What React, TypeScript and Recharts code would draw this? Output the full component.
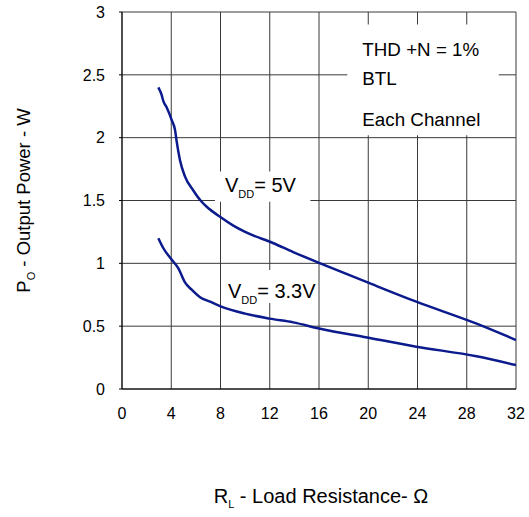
import {
  LineChart,
  Line,
  XAxis,
  YAxis,
  CartesianGrid,
  ReferenceArea,
} from "recharts";

const FONT = "'Liberation Sans', Arial, Helvetica, sans-serif";

const xTicks = [0, 4, 8, 12, 16, 20, 24, 28, 32];
const yTicks = [0, 0.5, 1, 1.5, 2, 2.5, 3];

// VDD = 5 V
const load5V = [2.95, 3.22, 3.36, 3.63, 4.04, 4.31, 4.44, 4.71, 5.12, 5.79, 6.47, 6.88, 7.96, 9.04, 10, 12.3, 13.9, 16.1, 19.9, 23.9, 28.8, 32];
const power5V = [2.4, 2.34, 2.29, 2.24, 2.14, 2.06, 1.97, 1.82, 1.69, 1.58, 1.49, 1.45, 1.37, 1.3, 1.25, 1.16, 1.09, 1.0, 0.85, 0.695, 0.52, 0.39];

// VDD = 3.3 V
const load33V = [2.95, 3.36, 4.03, 4.58, 5.1, 5.66, 6.34, 7.15, 7.96, 10, 12, 13.9, 16.1, 19.9, 23.9, 28.8, 32];
const power33V = [1.2, 1.12, 1.03, 0.96, 0.85, 0.79, 0.73, 0.695, 0.66, 0.6, 0.56, 0.53, 0.48, 0.41, 0.337, 0.26, 0.19];

const data5V = load5V.map((r, i) => ({ r, p: power5V[i] }));
const data33V = load33V.map((r, i) => ({ r, p: power33V[i] }));

const LINE_COLOR = "#0b1a8c";

function conditionsLabel(props: any) {
  const { x, y } = props.viewBox;
  return (
    <g fontFamily={FONT} fontSize={18.8} fill="#000">
      <text x={x + 15} y={y + 31}>THD +N = 1%</text>
      <text x={x + 15} y={y + 60}>BTL</text>
      <text x={x + 15} y={y + 101}>Each Channel</text>
    </g>
  );
}

function vddLabel(value: string, dx: number, dy: number) {
  return (props: any) => {
    const { x, y } = props.viewBox;
    return (
      <text x={x + dx} y={y + dy} fontFamily={FONT} fontSize={20} fill="#000">
        <tspan>V</tspan>
        <tspan fontSize={11} dy={6}>DD</tspan>
        <tspan dy={-6}>{"= " + value}</tspan>
      </text>
    );
  };
}

function yTitle(props: any) {
  const { x, y, height } = props.viewBox;
  const cx = x + 30;
  const cy = y + height / 2;
  return (
    <text
      x={cx}
      y={cy}
      transform={`rotate(-90, ${cx}, ${cy})`}
      textAnchor="middle"
      fontFamily={FONT}
      fontSize={18.5}
      fill="#000"
    >
      <tspan>P</tspan>
      <tspan fontSize={11} dy={5}>O</tspan>
      <tspan dy={-5}> - Output Power - W</tspan>
    </text>
  );
}

function xTitle(props: any) {
  const { x, y, width } = props.viewBox;
  const cx = x + width / 2 + 2;
  return (
    <text x={cx} y={y + 114} textAnchor="middle" fontFamily={FONT} fontSize={20} fill="#000">
      <tspan>R</tspan>
      <tspan fontSize={11} dy={5}>L</tspan>
      <tspan dy={-5}> - Load Resistance- Ω</tspan>
    </text>
  );
}

export default function App() {
  return (
    <div style={{ position: "absolute", left: 0, top: 0, width: 529, height: 517, background: "#fff" }}>
      <LineChart
        width={529}
        height={517}
        margin={{ top: 12, right: 13, bottom: 0, left: 0 }}
      >
        <CartesianGrid stroke="#3a3a3a" strokeWidth={1} horizontalValues={yTicks} verticalValues={xTicks} />
        <XAxis
          type="number"
          dataKey="r"
          domain={[0, 32]}
          ticks={xTicks}
          height={128}
          tickSize={0}
          tickMargin={19}
          tickLine={false}
          axisLine={{ stroke: "#000" }}
          tick={{ fontSize: 16, fill: "#000", fontFamily: FONT }}
          allowDataOverflow
          label={xTitle}
        />
        <YAxis
          type="number"
          domain={[0, 3]}
          ticks={yTicks}
          width={122}
          tickSize={3}
          tickMargin={14}
          tickLine={{ stroke: "#000" }}
          axisLine={{ stroke: "#000" }}
          tick={{ fontSize: 16, fill: "#000", fontFamily: FONT }}
          label={yTitle}
        />
        <ReferenceArea x1={18.3} x2={30.6} y1={2.02} y2={2.9} fill="#fff" fillOpacity={1} stroke="none" label={conditionsLabel} />
        <ReferenceArea x1={7.55} x2={15.3} y1={1.49} y2={1.73} fill="#fff" fillOpacity={1} stroke="none" label={vddLabel("5V", 10, 20)} />
        <ReferenceArea x1={8.2} x2={15.9} y1={0.685} y2={0.947} fill="#fff" fillOpacity={1} stroke="none" label={vddLabel("3.3V", 5, 28)} />
        <Line
          data={data5V}
          dataKey="p"
          type="monotone"
          stroke={LINE_COLOR}
          strokeWidth={2.5}
          dot={false}
          activeDot={false}
          isAnimationActive={false}
        />
        <Line
          data={data33V}
          dataKey="p"
          type="monotone"
          stroke={LINE_COLOR}
          strokeWidth={2.5}
          dot={false}
          activeDot={false}
          isAnimationActive={false}
        />
      </LineChart>
    </div>
  );
}
